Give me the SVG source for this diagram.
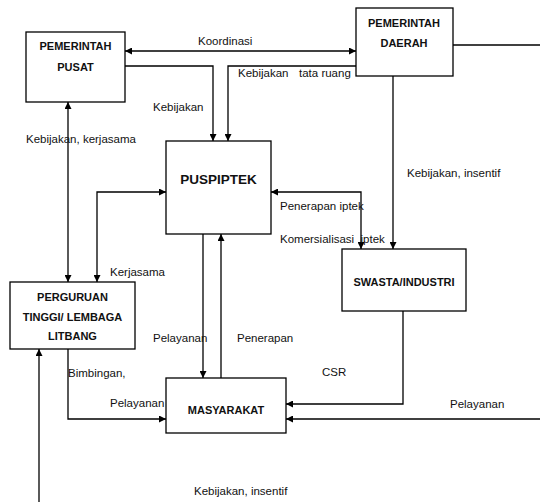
<svg xmlns="http://www.w3.org/2000/svg" width="540" height="502" viewBox="0 0 540 502">
<style>
.box{fill:#fff;stroke:#000;stroke-width:1.3}
.ln{fill:none;stroke:#000;stroke-width:1.3}
.t{font-family:"Liberation Sans",Arial,sans-serif;font-size:11.5px;fill:#111}
.b{font-family:"Liberation Sans",Arial,sans-serif;font-size:11px;font-weight:bold;fill:#111;text-anchor:middle}
</style>
<defs>
<marker id="ah" viewBox="0 0 10 10" refX="10" refY="5" markerWidth="7" markerHeight="7" markerUnits="userSpaceOnUse" orient="auto-start-reverse">
<path d="M0,0 L10,5 L0,10 z" fill="#000"/>
</marker>
</defs>
<rect width="540" height="502" fill="#fff"/>
<g id="connectors">
<path class="ln" d="M125,51 H356" marker-start="url(#ah)" marker-end="url(#ah)"/>
<path class="ln" d="M125,66 H213 V141" marker-end="url(#ah)"/>
<path class="ln" d="M356,66 H228 V141" marker-end="url(#ah)"/>
<path class="ln" d="M68,102 V282" marker-start="url(#ah)" marker-end="url(#ah)"/>
<path class="ln" d="M166,192 H97 V282" marker-start="url(#ah)" marker-end="url(#ah)"/>
<path class="ln" d="M271,192 H361 V249" marker-start="url(#ah)" marker-end="url(#ah)"/>
<path class="ln" d="M393,76 V249" marker-end="url(#ah)"/>
<path class="ln" d="M453,45 H540"/>
<path class="ln" d="M203,234 V378" marker-end="url(#ah)"/>
<path class="ln" d="M221,378 V234" marker-end="url(#ah)"/>
<path class="ln" d="M68,349 V419 H166" marker-end="url(#ah)"/>
<path class="ln" d="M403,311 V404 H286" marker-end="url(#ah)"/>
<path class="ln" d="M540,419 H286" marker-end="url(#ah)"/>
<path class="ln" d="M39,502 V349" marker-end="url(#ah)"/>
<text class="t" x="198" y="45">Koordinasi</text>
<text class="t" x="238" y="77">Kebijakan<tspan x="299">tata ruang</tspan></text>
<text class="t" x="153" y="111">Kebijakan</text>
<text class="t" x="26" y="143">Kebijakan, kerjasama</text>
<text class="t" x="110" y="276">Kerjasama</text>
<text class="t" x="407" y="177">Kebijakan, insentif</text>
<text class="t" x="280" y="210">Penerapan iptek</text>
<text class="t" x="280" y="243" xml:space="preserve">Komersialisasi  iptek</text>
<text class="t" x="153" y="342">Pelayanan</text>
<text class="t" x="237" y="342">Penerapan</text>
<text class="t" x="68" y="377">Bimbingan,</text>
<text class="t" x="110" y="407">Pelayanan</text>
<text class="t" x="322" y="376">CSR</text>
<text class="t" x="450" y="408">Pelayanan</text>
<text class="t" x="194" y="495">Kebijakan, insentif</text>
</g>
<g id="pemerintah-pusat">
<rect class="box" x="26" y="32" width="99" height="70"/>
<text class="b" x="75.5" y="50">PEMERINTAH</text>
<text class="b" x="75.5" y="71">PUSAT</text>
</g>
<g id="pemerintah-daerah">
<rect class="box" x="356" y="8" width="97" height="68"/>
<text class="b" x="404" y="27">PEMERINTAH</text>
<text class="b" x="404" y="47">DAERAH</text>
</g>
<g id="puspiptek">
<rect class="box" x="166" y="141" width="105" height="93"/>
<text class="b" x="218.5" y="184" style="font-size:13.5px">PUSPIPTEK</text>
</g>
<g id="perguruan">
<rect class="box" x="10" y="282" width="125" height="67"/>
<text class="b" x="72.5" y="301">PERGURUAN</text>
<text class="b" x="72.5" y="321">TINGGI/ LEMBAGA</text>
<text class="b" x="72.5" y="340">LITBANG</text>
</g>
<g id="swasta">
<rect class="box" x="342" y="249" width="124" height="62"/>
<text class="b" x="404" y="286">SWASTA/INDUSTRI</text>
</g>
<g id="masyarakat">
<rect class="box" x="166" y="378" width="120" height="55"/>
<text class="b" x="226" y="414">MASYARAKAT</text>
</g>
</svg>
